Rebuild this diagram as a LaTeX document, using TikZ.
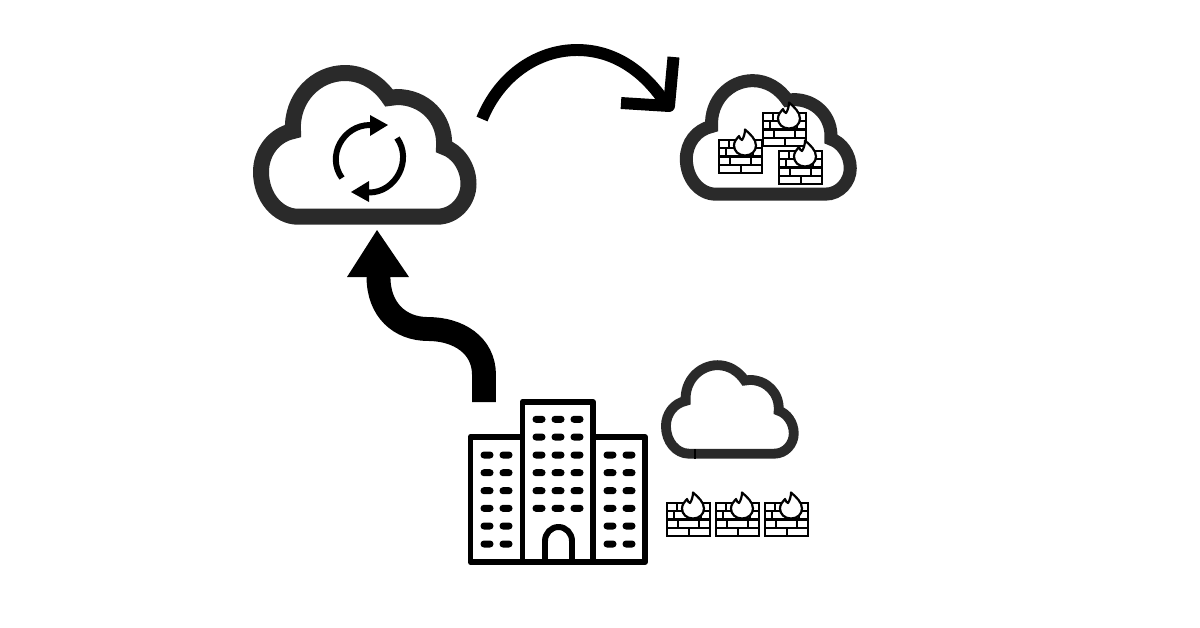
\documentclass[tikz,border=0pt]{standalone}
\usetikzlibrary{calc}
\definecolor{cloudgrey}{HTML}{2A2A2A}
\newcommand{\cloudshape}{(-67,71.7) -- (72,71.7) .. controls (90,71.7) and (103.5,56) .. (103.5,39) .. controls (103.5,21) and (92,6) .. (79,2) .. controls (81,-27) and (59,-48) .. (32,-48) -- (24,-47) .. controls (14,-62) and (-2,-72) .. (-20,-72) .. controls (-49,-72) and (-74,-47) .. (-72,-14) .. controls (-91,-10) and (-104,7) .. (-104,27) .. controls (-104,52) and (-87,71.7) .. (-67,71.7) -- cycle}
\tikzset{
  cloudline/.style={draw=cloudgrey,line join=miter,fill=white},
  bigline/.style={draw=black,line width=6.8pt,line cap=butt},
  wallline/.style={draw=black,line width=1.25pt},
  towerline/.style={draw=black,line width=3.4pt,line join=round},
  fwall/.pic={
    \draw[wallline,line join=miter] (0,0) rectangle (43,33);
    \draw[wallline] (0,8.2) -- (43,8.2) (0,16.5) -- (43,16.5) (0,24.7) -- (43,24.7)
      (10,0) -- (10,8.2) (19,0) -- (19,8.2) (33,0) -- (33,8.2)
      (7,8.2) -- (7,16.5) (34,8.2) -- (34,16.5)
      (11,16.5) -- (11,24.7) (32,16.5) -- (32,24.7)
      (22,24.7) -- (22,33);
    \draw[wallline,fill=white,line join=round] (26,15.5) .. controls (19.5,15.5) and (15,11) .. (15,5.5) .. controls (15,1.5) and (17.5,-1) .. (20,-4) .. controls (20.5,-2) and (21.5,-0.5) .. (23,0) .. controls (25,-3) and (26,-7) .. (26,-10.5) .. controls (31,-6) and (37,-1) .. (37,5.5) .. controls (37,11) and (32.5,15.5) .. (26,15.5) -- cycle;
  },
  winpill/.pic={\fill[black,rounded corners=0.068cm] (-6.5,-3.5) rectangle (6.5,3.5);}
}
\begin{document}
\begin{tikzpicture}[x=0.02cm,y=-0.02cm]
\useasboundingbox (0,0) rectangle (1200,627);
\fill[white] (0,0) rectangle (1200,627);
% Clouds
\begin{scope}[shift={(365,145)}]
  \draw[cloudline,line width=9.1pt] \cloudshape;
\end{scope}
\begin{scope}[shift={(768.5,137.5)},scale=0.79]
  \draw[cloudline,line width=7.4pt] \cloudshape;
\end{scope}
\begin{scope}[shift={(730,409.5)},scale=0.616]
  \draw[cloudline,line width=5.6pt] \cloudshape;
\end{scope}
\draw[black,line width=0.6pt] (695,449) -- (695,458.5);
% Sync arrows
\coordinate (syncA) at (342,178);
\coordinate (syncB) at (370,125);
\coordinate (syncC) at (397,138);
\coordinate (syncD) at (369,192.5);
\draw[black,line width=3.4pt] (syncA) .. controls (326,156.3) and (343,125) .. (syncB);
\fill[black] (370,115) -- (388,125) -- (370,136) -- cycle;
\draw[black,line width=3.4pt] (syncC) .. controls (412.7,160) and (396,192.5) .. (syncD);
\fill[black] (369,181) -- (351,192) -- (369,202) -- cycle;
% Firewalls in cloud
\pic at (763,113) {fwall};
\pic at (719,140) {fwall};
\pic at (779,151) {fwall};
% Firewalls in a row
\pic at (667,503) {fwall};
\pic at (716,503) {fwall};
\pic at (765,503) {fwall};
% Building
\draw[towerline] (522.5,437) -- (470.5,437) -- (470.5,562) -- (645,562) -- (645,437) -- (593,437);
\draw[towerline] (522.5,562) -- (522.5,402) -- (593,402) -- (593,562);
\draw[towerline] (545,562) -- (545,541) arc[start angle=180,end angle=0,x radius=13.5,y radius=-14] -- (572,562);
\foreach \x in {487,506,610,629}
  \foreach \y in {455,472.7,490.7,508.3,526,544}
    \pic at (\x,\y) {winpill};
\foreach \x in {539,558,577}
  \foreach \y in {419.3,437,455,472.7,490.7,508.3}
    \pic at (\x,\y) {winpill};
% Thick S arrow from building to cloud
\coordinate (bldgTop) at (484,402);
\coordinate (headBase) at (378.5,277);
\fill[black] (347,277) -- (377,230) -- (409,277) -- cycle;
\draw[black,line width=13.6pt] (bldgTop) -- (484,375) .. controls (484,345) and (458,329) .. (428,329) .. controls (400,329) and (378.5,310) .. (headBase);
% Curved arrow between clouds
\coordinate (arcStart) at (482,119);
\coordinate (arcEnd) at (666,104);
\coordinate (headCorner) at (669,106);
\draw[bigline] (arcStart) .. controls (500,75) and (538,50) .. (577,50) .. controls (615,50) and (645,72) .. (arcEnd);
\draw[bigline,line join=round] (673.5,57) -- (headCorner) -- (621,103);
\end{tikzpicture}
\end{document}
